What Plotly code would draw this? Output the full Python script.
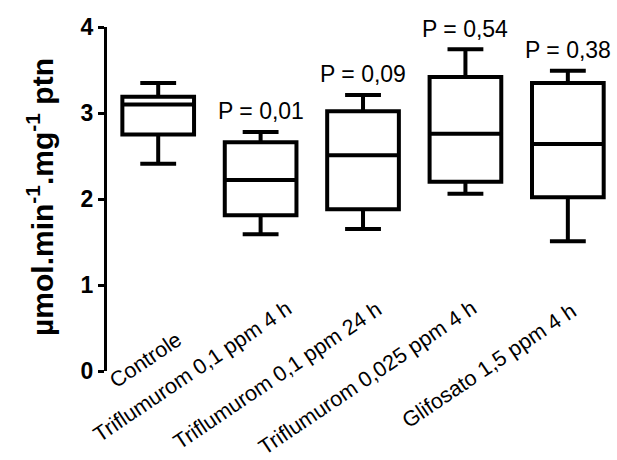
import plotly.graph_objects as go

categories = ["Controle", "Triflumurom 0,1 ppm 4 h", "Triflumurom 0,1 ppm 24 h",
              "Triflumurom 0,025 ppm 4 h", "Glifosato 1,5 ppm 4 h"]
lower = [2.41, 1.59, 1.65, 2.06, 1.51]
q1 = [2.75, 1.81, 1.88, 2.20, 2.02]
median = [3.10, 2.22, 2.51, 2.76, 2.64]
q3 = [3.19, 2.66, 3.02, 3.42, 3.35]
upper = [3.35, 2.78, 3.21, 3.74, 3.49]
p_labels = ["", "P = 0,01", "P = 0,09", "P = 0,54", "P = 0,38"]
y_ticks = [0, 1, 2, 3, 4]

FONT = "Arial, Liberation Sans, sans-serif"
pos = list(range(len(categories)))

fig = go.Figure()
fig.add_trace(go.Box(
    x=pos, q1=q1, median=median, q3=q3, lowerfence=lower, upperfence=upper,
    boxpoints=False, width=0.7, whiskerwidth=0.5,
    line=dict(color="black", width=4), fillcolor="white",
    showlegend=False, hoverinfo="skip",
))

annotations = []
# P-value labels above upper whiskers
for i, t in enumerate(p_labels):
    if t:
        annotations.append(dict(x=i, y=upper[i] + 0.24, xref="x", yref="y", text=t,
                                showarrow=False, font=dict(family=FONT, size=23, color="black"),
                                xanchor="center", yanchor="middle"))
# rotated category labels
label_dx = [-0.12, -0.67, -0.84, -0.96, -0.77]
label_py = [0.032, -0.003, -0.015, -0.020, 0.015]
for i, c in enumerate(categories):
    annotations.append(dict(x=i + label_dx[i], y=label_py[i], xref="x", yref="paper", text=c,
                            showarrow=False, textangle=-34,
                            font=dict(family=FONT, size=21.5, color="black"),
                            xanchor="center", yanchor="middle"))
# y-axis title
annotations.append(dict(x=-0.13, y=0.505, xref="paper", yref="paper",
                        text="<b>µmol.min<sup>-1</sup>.mg<sup>-1</sup> ptn</b>",
                        showarrow=False, textangle=-90,
                        font=dict(family=FONT, size=30, color="black"),
                        xanchor="center", yanchor="middle"))

fig.update_layout(
    width=617, height=460,
    margin=dict(l=107, r=0, t=27, b=89),
    plot_bgcolor="white", paper_bgcolor="white",
    annotations=annotations,
    xaxis=dict(range=[-0.5, 4.48], visible=False),
    yaxis=dict(range=[0, 4], tickvals=y_ticks, ticks="outside", ticklen=6, tickwidth=3,
               tickcolor="black", showline=True, linewidth=3, linecolor="black",
               showgrid=False, zeroline=False,
               tickfont=dict(family=FONT, size=23, color="black", weight="bold")),
)

fig.write_html("out.html")
